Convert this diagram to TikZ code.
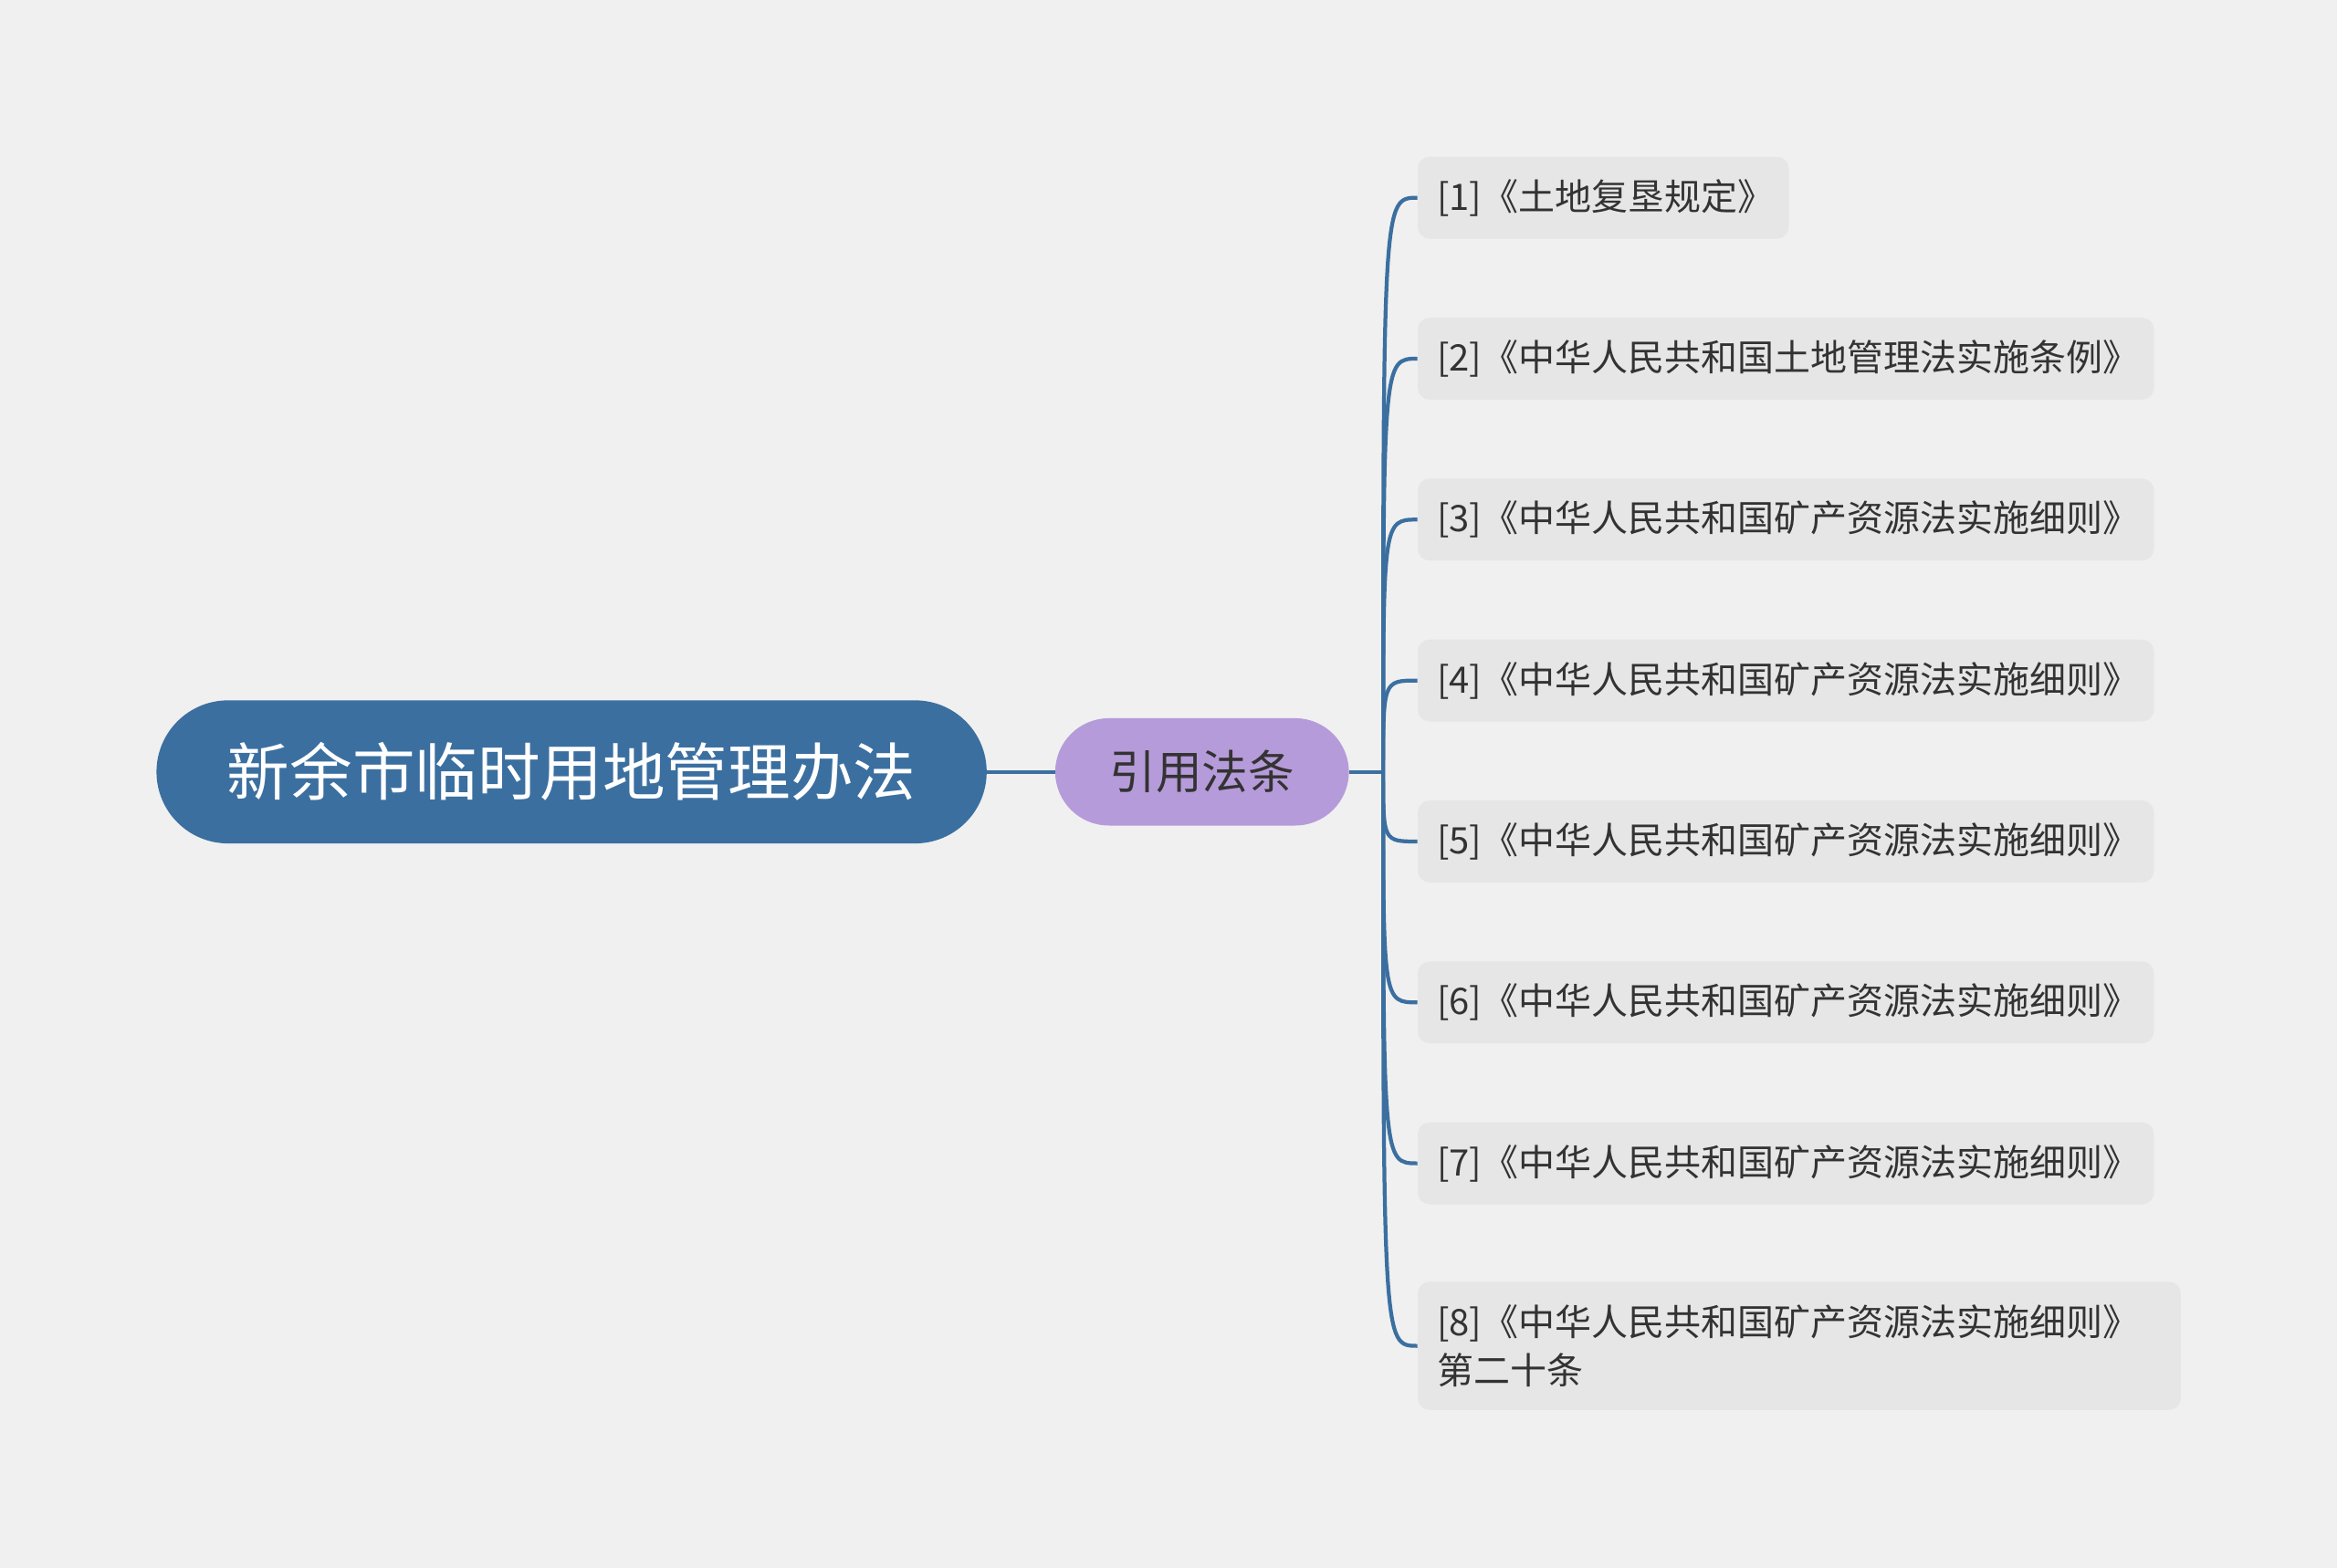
\documentclass[tikz,border=0pt]{standalone}
\usepackage{fontspec}
\setmainfont{Noto Sans CJK SC}
\definecolor{bg}{HTML}{F0F0F0}
\definecolor{rootc}{HTML}{3B6FA0}
\definecolor{midc}{HTML}{B69BDA}
\definecolor{leafc}{HTML}{E6E6E6}
\definecolor{txt}{HTML}{333333}
\begin{document}
\begin{tikzpicture}[x=1pt,y=-1pt,
  leaf/.style={fill=leafc,rounded corners=8pt,anchor=north west,inner xsep=13pt,inner ysep=0pt,
    align=left,text=txt,font=\fontsize{24.5}{32}\selectfont},
  conn/.style={draw=rootc,line width=2.6pt}]
\fill[bg] (0,0) rectangle (1568,1052);
\node[fill=rootc,rounded corners=48pt,minimum width=557pt,minimum height=96pt,text=white,
  font=\fontsize{42}{50}\selectfont] (root) at (383.5,518) {新余市临时用地管理办法};
\node[fill=midc,rounded corners=36pt,minimum width=197pt,minimum height=72pt,text=txt,
  font=\fontsize{31}{38}\selectfont] (mid) at (806.5,518) {引用法条};
\coordinate (b) at (928,518);
\draw[conn] (root) -- (mid);
\draw[conn] (mid) -- (b);
\node[leaf,minimum width=249pt,minimum height=55pt,text width=223pt] (l1) at (951,105) {[1]《土地复垦规定》};
\node[leaf,minimum width=494pt,minimum height=55pt,text width=468pt] (l2) at (951,213) {[2]《中华人民共和国土地管理法实施条例》};
\node[leaf,minimum width=494pt,minimum height=55pt,text width=468pt] (l3) at (951,321) {[3]《中华人民共和国矿产资源法实施细则》};
\node[leaf,minimum width=494pt,minimum height=55pt,text width=468pt] (l4) at (951,429) {[4]《中华人民共和国矿产资源法实施细则》};
\node[leaf,minimum width=494pt,minimum height=55pt,text width=468pt] (l5) at (951,537) {[5]《中华人民共和国矿产资源法实施细则》};
\node[leaf,minimum width=494pt,minimum height=55pt,text width=468pt] (l6) at (951,645) {[6]《中华人民共和国矿产资源法实施细则》};
\node[leaf,minimum width=494pt,minimum height=55pt,text width=468pt] (l7) at (951,753) {[7]《中华人民共和国矿产资源法实施细则》};
\node[leaf,minimum width=512pt,minimum height=86pt,text width=486pt] (l8) at (951,860) {[8]《中华人民共和国矿产资源法实施细则》\\第二十条};
\foreach \n in {l1,l2,l3,l4,l5,l6,l7,l8}{\draw[conn] (b) .. controls (b |- \n.west) and (b |- \n.west) .. (\n.west);}
\end{tikzpicture}
\end{document}
